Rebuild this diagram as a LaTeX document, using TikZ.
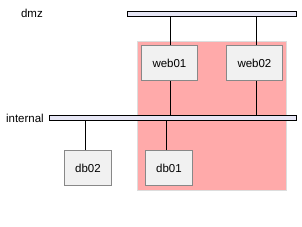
\documentclass[tikz,border=0pt]{standalone}
\usepackage{fontspec}
\setmainfont{Liberation Sans}
\definecolor{pinkgrp}{HTML}{FFAAAA}
\definecolor{grpborder}{HTML}{DDDDDD}
\definecolor{boxfill}{HTML}{F1F1F1}
\definecolor{boxborder}{HTML}{888888}
\definecolor{barfill}{HTML}{E6E6F5}
\begin{document}
\begin{tikzpicture}[x=1pt,y=-1pt,
  hostbox/.style={draw=boxborder,fill=boxfill,line width=0.9pt,inner sep=0pt},
  netbar/.style={draw=black,fill=barfill,line width=0.9pt,inner sep=0pt},
  lbl/.style={font=\fontsize{11.5}{13}\selectfont,inner sep=0pt},
  wire/.style={draw=black,line width=0.9pt}]
\useasboundingbox (0,0) rectangle (302,226);
\fill[white] (0,0) rectangle (302,226);
% group
\node[draw=grpborder,fill=pinkgrp,line width=1pt,inner sep=0pt,minimum width=149pt,minimum height=149pt,anchor=north west] (grp) at (137,41) {};
% networks
\node[netbar,minimum width=169pt,minimum height=4.5pt,anchor=north west] (dmz) at (127,11) {};
\node[netbar,minimum width=247pt,minimum height=5pt,anchor=north west] (internal) at (49,115) {};
\node[lbl,anchor=east] (dmzl) at (43,13) {dmz};
\node[lbl,anchor=east] (internall) at (44,118) {internal};
% hosts
\node[hostbox,minimum width=56pt,minimum height=35pt,anchor=north west] (web01) at (141,45) {};
\node[lbl] (web01t) at (web01.center) {web01};
\node[hostbox,minimum width=56pt,minimum height=35pt,anchor=north west] (web02) at (226,45) {};
\node[lbl] (web02t) at (web02.center) {web02};
\node[hostbox,minimum width=47pt,minimum height=35pt,anchor=north west] (db02) at (64,150) {};
\node[lbl] (db02t) at (db02.center) {db02};
\node[hostbox,minimum width=47pt,minimum height=35pt,anchor=north west] (db01) at (145,150) {};
\node[lbl] (db01t) at (db01.center) {db01};
% wires
\draw[wire] (web01.north -| 170.5,0) -- (dmz.south -| 170.5,0);
\draw[wire] (web01.south -| 170.5,0) -- (internal.north -| 170.5,0);
\draw[wire] (web02.north -| 256.5,0) -- (dmz.south -| 256.5,0);
\draw[wire] (web02.south -| 256.5,0) -- (internal.north -| 256.5,0);
\draw[wire] (db02.north -| 85.5,0) -- (internal.south -| 85.5,0);
\draw[wire] (db01.north -| 166.5,0) -- (internal.south -| 166.5,0);
\end{tikzpicture}
\end{document}
